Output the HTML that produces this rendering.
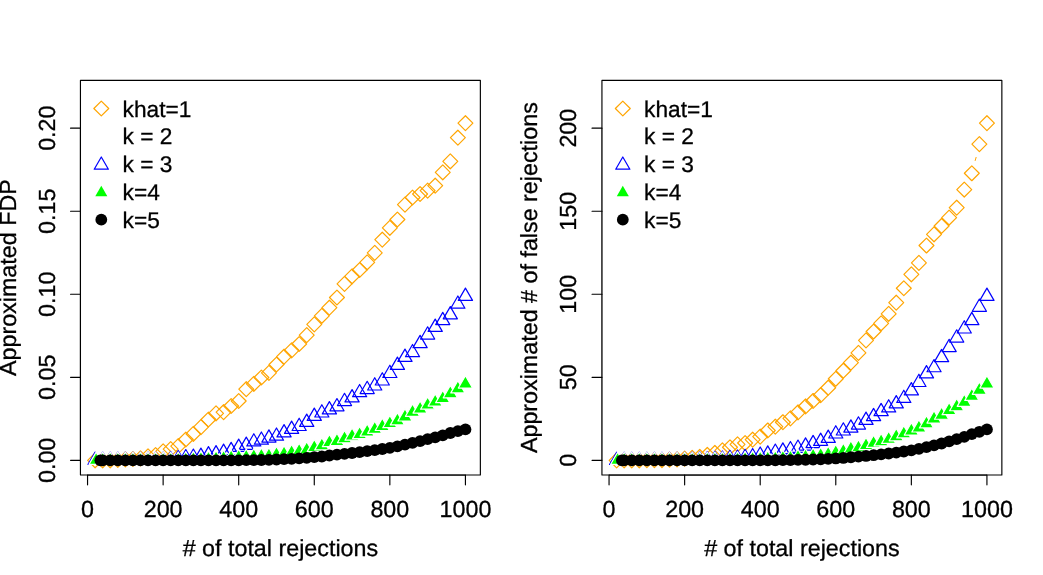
<!DOCTYPE html>
<html><head><meta charset="utf-8"><title>plot</title>
<style>
html,body{margin:0;padding:0;background:#fff;}
body{width:1043px;height:575px;overflow:hidden;}
svg{display:block;}
text{font-family:"Liberation Sans",sans-serif;font-size:23.3px;fill:#000;stroke:#000;stroke-width:0.3px;text-rendering:geometricPrecision;}
svg{will-change:transform;}
</style></head><body>
<svg width="1043" height="575" viewBox="0 0 1043 575">
<rect width="1043" height="575" fill="#fff"/>
<svg x="0" y="0" width="521.5" height="575" viewBox="0 0 521.5 575" overflow="hidden">
<g transform="translate(0,0)">
<path d="M95.11 452.85L102.56 460.30L95.11 467.75L87.66 460.30Z" fill="none" stroke="#FFA500" stroke-width="1.2" stroke-linejoin="round"/>
<path d="M102.67 452.85L110.12 460.30L102.67 467.75L95.22 460.30Z" fill="none" stroke="#FFA500" stroke-width="1.2" stroke-linejoin="round"/>
<path d="M110.22 452.85L117.67 460.30L110.22 467.75L102.77 460.30Z" fill="none" stroke="#FFA500" stroke-width="1.2" stroke-linejoin="round"/>
<path d="M117.78 452.55L125.23 460.00L117.78 467.45L110.33 460.00Z" fill="none" stroke="#FFA500" stroke-width="1.2" stroke-linejoin="round"/>
<path d="M125.34 451.85L132.79 459.30L125.34 466.75L117.89 459.30Z" fill="none" stroke="#FFA500" stroke-width="1.2" stroke-linejoin="round"/>
<path d="M132.90 451.55L140.35 459.00L132.90 466.45L125.45 459.00Z" fill="none" stroke="#FFA500" stroke-width="1.2" stroke-linejoin="round"/>
<path d="M140.45 450.85L147.90 458.30L140.45 465.75L133.00 458.30Z" fill="none" stroke="#FFA500" stroke-width="1.2" stroke-linejoin="round"/>
<path d="M148.01 448.95L155.46 456.40L148.01 463.85L140.56 456.40Z" fill="none" stroke="#FFA500" stroke-width="1.2" stroke-linejoin="round"/>
<path d="M155.57 447.55L163.02 455.00L155.57 462.45L148.12 455.00Z" fill="none" stroke="#FFA500" stroke-width="1.2" stroke-linejoin="round"/>
<path d="M163.13 443.85L170.58 451.30L163.13 458.75L155.68 451.30Z" fill="none" stroke="#FFA500" stroke-width="1.2" stroke-linejoin="round"/>
<path d="M170.68 441.65L178.13 449.10L170.68 456.55L163.23 449.10Z" fill="none" stroke="#FFA500" stroke-width="1.2" stroke-linejoin="round"/>
<path d="M178.24 438.65L185.69 446.10L178.24 453.55L170.79 446.10Z" fill="none" stroke="#FFA500" stroke-width="1.2" stroke-linejoin="round"/>
<path d="M185.80 432.05L193.25 439.50L185.80 446.95L178.35 439.50Z" fill="none" stroke="#FFA500" stroke-width="1.2" stroke-linejoin="round"/>
<path d="M193.36 426.35L200.81 433.80L193.36 441.25L185.91 433.80Z" fill="none" stroke="#FFA500" stroke-width="1.2" stroke-linejoin="round"/>
<path d="M200.91 419.65L208.36 427.10L200.91 434.55L193.46 427.10Z" fill="none" stroke="#FFA500" stroke-width="1.2" stroke-linejoin="round"/>
<path d="M208.47 412.05L215.92 419.50L208.47 426.95L201.02 419.50Z" fill="none" stroke="#FFA500" stroke-width="1.2" stroke-linejoin="round"/>
<path d="M216.03 405.85L223.48 413.30L216.03 420.75L208.58 413.30Z" fill="none" stroke="#FFA500" stroke-width="1.2" stroke-linejoin="round"/>
<path d="M223.59 404.75L231.04 412.20L223.59 419.65L216.14 412.20Z" fill="none" stroke="#FFA500" stroke-width="1.2" stroke-linejoin="round"/>
<path d="M231.14 398.55L238.59 406.00L231.14 413.45L223.69 406.00Z" fill="none" stroke="#FFA500" stroke-width="1.2" stroke-linejoin="round"/>
<path d="M238.70 393.55L246.15 401.00L238.70 408.45L231.25 401.00Z" fill="none" stroke="#FFA500" stroke-width="1.2" stroke-linejoin="round"/>
<path d="M246.26 381.75L253.71 389.20L246.26 396.65L238.81 389.20Z" fill="none" stroke="#FFA500" stroke-width="1.2" stroke-linejoin="round"/>
<path d="M253.82 376.35L261.27 383.80L253.82 391.25L246.37 383.80Z" fill="none" stroke="#FFA500" stroke-width="1.2" stroke-linejoin="round"/>
<path d="M261.37 370.05L268.82 377.50L261.37 384.95L253.92 377.50Z" fill="none" stroke="#FFA500" stroke-width="1.2" stroke-linejoin="round"/>
<path d="M268.93 365.45L276.38 372.90L268.93 380.35L261.48 372.90Z" fill="none" stroke="#FFA500" stroke-width="1.2" stroke-linejoin="round"/>
<path d="M276.49 357.05L283.94 364.50L276.49 371.95L269.04 364.50Z" fill="none" stroke="#FFA500" stroke-width="1.2" stroke-linejoin="round"/>
<path d="M284.05 349.25L291.50 356.70L284.05 364.15L276.60 356.70Z" fill="none" stroke="#FFA500" stroke-width="1.2" stroke-linejoin="round"/>
<path d="M291.61 342.95L299.06 350.40L291.61 357.85L284.16 350.40Z" fill="none" stroke="#FFA500" stroke-width="1.2" stroke-linejoin="round"/>
<path d="M299.16 336.55L306.61 344.00L299.16 351.45L291.71 344.00Z" fill="none" stroke="#FFA500" stroke-width="1.2" stroke-linejoin="round"/>
<path d="M306.72 327.65L314.17 335.10L306.72 342.55L299.27 335.10Z" fill="none" stroke="#FFA500" stroke-width="1.2" stroke-linejoin="round"/>
<path d="M314.28 316.95L321.73 324.40L314.28 331.85L306.83 324.40Z" fill="none" stroke="#FFA500" stroke-width="1.2" stroke-linejoin="round"/>
<path d="M321.84 308.35L329.29 315.80L321.84 323.25L314.39 315.80Z" fill="none" stroke="#FFA500" stroke-width="1.2" stroke-linejoin="round"/>
<path d="M329.39 300.25L336.84 307.70L329.39 315.15L321.94 307.70Z" fill="none" stroke="#FFA500" stroke-width="1.2" stroke-linejoin="round"/>
<path d="M336.95 290.05L344.40 297.50L336.95 304.95L329.50 297.50Z" fill="none" stroke="#FFA500" stroke-width="1.2" stroke-linejoin="round"/>
<path d="M344.51 276.45L351.96 283.90L344.51 291.35L337.06 283.90Z" fill="none" stroke="#FFA500" stroke-width="1.2" stroke-linejoin="round"/>
<path d="M352.07 268.85L359.52 276.30L352.07 283.75L344.62 276.30Z" fill="none" stroke="#FFA500" stroke-width="1.2" stroke-linejoin="round"/>
<path d="M359.62 262.55L367.07 270.00L359.62 277.45L352.17 270.00Z" fill="none" stroke="#FFA500" stroke-width="1.2" stroke-linejoin="round"/>
<path d="M367.18 254.85L374.63 262.30L367.18 269.75L359.73 262.30Z" fill="none" stroke="#FFA500" stroke-width="1.2" stroke-linejoin="round"/>
<path d="M374.74 245.45L382.19 252.90L374.74 260.35L367.29 252.90Z" fill="none" stroke="#FFA500" stroke-width="1.2" stroke-linejoin="round"/>
<path d="M382.30 232.25L389.75 239.70L382.30 247.15L374.85 239.70Z" fill="none" stroke="#FFA500" stroke-width="1.2" stroke-linejoin="round"/>
<path d="M389.85 220.35L397.30 227.80L389.85 235.25L382.40 227.80Z" fill="none" stroke="#FFA500" stroke-width="1.2" stroke-linejoin="round"/>
<path d="M397.41 212.05L404.86 219.50L397.41 226.95L389.96 219.50Z" fill="none" stroke="#FFA500" stroke-width="1.2" stroke-linejoin="round"/>
<path d="M404.97 197.15L412.42 204.60L404.97 212.05L397.52 204.60Z" fill="none" stroke="#FFA500" stroke-width="1.2" stroke-linejoin="round"/>
<path d="M412.53 190.05L419.98 197.50L412.53 204.95L405.08 197.50Z" fill="none" stroke="#FFA500" stroke-width="1.2" stroke-linejoin="round"/>
<path d="M420.08 186.55L427.53 194.00L420.08 201.45L412.63 194.00Z" fill="none" stroke="#FFA500" stroke-width="1.2" stroke-linejoin="round"/>
<path d="M427.64 183.15L435.09 190.60L427.64 198.05L420.19 190.60Z" fill="none" stroke="#FFA500" stroke-width="1.2" stroke-linejoin="round"/>
<path d="M435.20 178.25L442.65 185.70L435.20 193.15L427.75 185.70Z" fill="none" stroke="#FFA500" stroke-width="1.2" stroke-linejoin="round"/>
<path d="M442.76 164.85L450.21 172.30L442.76 179.75L435.31 172.30Z" fill="none" stroke="#FFA500" stroke-width="1.2" stroke-linejoin="round"/>
<path d="M450.31 153.85L457.76 161.30L450.31 168.75L442.86 161.30Z" fill="none" stroke="#FFA500" stroke-width="1.2" stroke-linejoin="round"/>
<path d="M457.87 130.25L465.32 137.70L457.87 145.15L450.42 137.70Z" fill="none" stroke="#FFA500" stroke-width="1.2" stroke-linejoin="round"/>
<path d="M465.43 115.75L472.88 123.20L465.43 130.65L457.98 123.20Z" fill="none" stroke="#FFA500" stroke-width="1.2" stroke-linejoin="round"/>
<path d="M95.11 452.13L102.18 464.38L88.03 464.38Z" fill="none" stroke="#0000FF" stroke-width="1.2" stroke-linejoin="round"/>
<path d="M102.67 452.13L109.74 464.38L95.59 464.38Z" fill="none" stroke="#0000FF" stroke-width="1.2" stroke-linejoin="round"/>
<path d="M110.22 452.13L117.30 464.38L103.15 464.38Z" fill="none" stroke="#0000FF" stroke-width="1.2" stroke-linejoin="round"/>
<path d="M117.78 452.13L124.86 464.38L110.70 464.38Z" fill="none" stroke="#0000FF" stroke-width="1.2" stroke-linejoin="round"/>
<path d="M125.34 452.13L132.41 464.38L118.26 464.38Z" fill="none" stroke="#0000FF" stroke-width="1.2" stroke-linejoin="round"/>
<path d="M132.90 452.13L139.97 464.38L125.82 464.38Z" fill="none" stroke="#0000FF" stroke-width="1.2" stroke-linejoin="round"/>
<path d="M140.45 452.13L147.53 464.38L133.38 464.38Z" fill="none" stroke="#0000FF" stroke-width="1.2" stroke-linejoin="round"/>
<path d="M148.01 452.13L155.09 464.38L140.94 464.38Z" fill="none" stroke="#0000FF" stroke-width="1.2" stroke-linejoin="round"/>
<path d="M155.57 452.13L162.64 464.38L148.49 464.38Z" fill="none" stroke="#0000FF" stroke-width="1.2" stroke-linejoin="round"/>
<path d="M163.13 452.13L170.20 464.38L156.05 464.38Z" fill="none" stroke="#0000FF" stroke-width="1.2" stroke-linejoin="round"/>
<path d="M170.68 451.43L177.76 463.69L163.61 463.69Z" fill="none" stroke="#0000FF" stroke-width="1.2" stroke-linejoin="round"/>
<path d="M178.24 450.43L185.32 462.69L171.17 462.69Z" fill="none" stroke="#0000FF" stroke-width="1.2" stroke-linejoin="round"/>
<path d="M185.80 449.63L192.87 461.88L178.72 461.88Z" fill="none" stroke="#0000FF" stroke-width="1.2" stroke-linejoin="round"/>
<path d="M193.36 449.03L200.43 461.28L186.28 461.28Z" fill="none" stroke="#0000FF" stroke-width="1.2" stroke-linejoin="round"/>
<path d="M200.91 448.13L207.99 460.38L193.84 460.38Z" fill="none" stroke="#0000FF" stroke-width="1.2" stroke-linejoin="round"/>
<path d="M208.47 446.63L215.55 458.88L201.40 458.88Z" fill="none" stroke="#0000FF" stroke-width="1.2" stroke-linejoin="round"/>
<path d="M216.03 445.63L223.10 457.88L208.95 457.88Z" fill="none" stroke="#0000FF" stroke-width="1.2" stroke-linejoin="round"/>
<path d="M223.59 444.13L230.66 456.38L216.51 456.38Z" fill="none" stroke="#0000FF" stroke-width="1.2" stroke-linejoin="round"/>
<path d="M231.14 442.33L238.22 454.58L224.07 454.58Z" fill="none" stroke="#0000FF" stroke-width="1.2" stroke-linejoin="round"/>
<path d="M238.70 439.13L245.78 451.38L231.63 451.38Z" fill="none" stroke="#0000FF" stroke-width="1.2" stroke-linejoin="round"/>
<path d="M246.26 437.13L253.34 449.38L239.18 449.38Z" fill="none" stroke="#0000FF" stroke-width="1.2" stroke-linejoin="round"/>
<path d="M253.82 433.68L260.89 445.94L246.74 445.94Z" fill="none" stroke="#0000FF" stroke-width="1.2" stroke-linejoin="round"/>
<path d="M261.37 431.93L268.45 444.19L254.30 444.19Z" fill="none" stroke="#0000FF" stroke-width="1.2" stroke-linejoin="round"/>
<path d="M268.93 429.83L276.01 442.08L261.86 442.08Z" fill="none" stroke="#0000FF" stroke-width="1.2" stroke-linejoin="round"/>
<path d="M276.49 427.93L283.57 440.19L269.41 440.19Z" fill="none" stroke="#0000FF" stroke-width="1.2" stroke-linejoin="round"/>
<path d="M284.05 424.63L291.12 436.88L276.97 436.88Z" fill="none" stroke="#0000FF" stroke-width="1.2" stroke-linejoin="round"/>
<path d="M291.61 421.13L298.68 433.38L284.53 433.38Z" fill="none" stroke="#0000FF" stroke-width="1.2" stroke-linejoin="round"/>
<path d="M299.16 418.23L306.24 430.49L292.09 430.49Z" fill="none" stroke="#0000FF" stroke-width="1.2" stroke-linejoin="round"/>
<path d="M306.72 414.13L313.80 426.38L299.64 426.38Z" fill="none" stroke="#0000FF" stroke-width="1.2" stroke-linejoin="round"/>
<path d="M314.28 408.13L321.35 420.38L307.20 420.38Z" fill="none" stroke="#0000FF" stroke-width="1.2" stroke-linejoin="round"/>
<path d="M321.84 404.73L328.91 416.99L314.76 416.99Z" fill="none" stroke="#0000FF" stroke-width="1.2" stroke-linejoin="round"/>
<path d="M329.39 401.63L336.47 413.88L322.32 413.88Z" fill="none" stroke="#0000FF" stroke-width="1.2" stroke-linejoin="round"/>
<path d="M336.95 398.53L344.03 410.78L329.88 410.78Z" fill="none" stroke="#0000FF" stroke-width="1.2" stroke-linejoin="round"/>
<path d="M344.51 393.28L351.58 405.53L337.43 405.53Z" fill="none" stroke="#0000FF" stroke-width="1.2" stroke-linejoin="round"/>
<path d="M352.07 389.63L359.14 401.88L344.99 401.88Z" fill="none" stroke="#0000FF" stroke-width="1.2" stroke-linejoin="round"/>
<path d="M359.62 384.43L366.70 396.69L352.55 396.69Z" fill="none" stroke="#0000FF" stroke-width="1.2" stroke-linejoin="round"/>
<path d="M367.18 381.28L374.26 393.53L360.11 393.53Z" fill="none" stroke="#0000FF" stroke-width="1.2" stroke-linejoin="round"/>
<path d="M374.74 377.73L381.81 389.99L367.66 389.99Z" fill="none" stroke="#0000FF" stroke-width="1.2" stroke-linejoin="round"/>
<path d="M382.30 372.73L389.37 384.99L375.22 384.99Z" fill="none" stroke="#0000FF" stroke-width="1.2" stroke-linejoin="round"/>
<path d="M389.85 365.23L396.93 377.49L382.78 377.49Z" fill="none" stroke="#0000FF" stroke-width="1.2" stroke-linejoin="round"/>
<path d="M397.41 357.13L404.49 369.38L390.34 369.38Z" fill="none" stroke="#0000FF" stroke-width="1.2" stroke-linejoin="round"/>
<path d="M404.97 349.13L412.04 361.38L397.89 361.38Z" fill="none" stroke="#0000FF" stroke-width="1.2" stroke-linejoin="round"/>
<path d="M412.53 344.43L419.60 356.69L405.45 356.69Z" fill="none" stroke="#0000FF" stroke-width="1.2" stroke-linejoin="round"/>
<path d="M420.08 335.38L427.16 347.63L413.01 347.63Z" fill="none" stroke="#0000FF" stroke-width="1.2" stroke-linejoin="round"/>
<path d="M427.64 326.78L434.72 339.03L420.57 339.03Z" fill="none" stroke="#0000FF" stroke-width="1.2" stroke-linejoin="round"/>
<path d="M435.20 319.13L442.28 331.38L428.12 331.38Z" fill="none" stroke="#0000FF" stroke-width="1.2" stroke-linejoin="round"/>
<path d="M442.76 312.33L449.83 324.58L435.68 324.58Z" fill="none" stroke="#0000FF" stroke-width="1.2" stroke-linejoin="round"/>
<path d="M450.31 306.58L457.39 318.83L443.24 318.83Z" fill="none" stroke="#0000FF" stroke-width="1.2" stroke-linejoin="round"/>
<path d="M457.87 295.93L464.95 308.19L450.80 308.19Z" fill="none" stroke="#0000FF" stroke-width="1.2" stroke-linejoin="round"/>
<path d="M465.43 288.13L472.51 300.38L458.35 300.38Z" fill="none" stroke="#0000FF" stroke-width="1.2" stroke-linejoin="round"/>
<path d="M96.11 452.13L103.18 464.38L89.03 464.38Z" fill="#00FF00" stroke="#fff" stroke-width="1.2" stroke-linejoin="round"/>
<path d="M102.67 452.13L109.74 464.38L95.59 464.38Z" fill="#00FF00" stroke="#fff" stroke-width="1.2" stroke-linejoin="round"/>
<path d="M110.22 452.13L117.30 464.38L103.15 464.38Z" fill="#00FF00" stroke="#fff" stroke-width="1.2" stroke-linejoin="round"/>
<path d="M117.78 452.13L124.86 464.38L110.70 464.38Z" fill="#00FF00" stroke="#fff" stroke-width="1.2" stroke-linejoin="round"/>
<path d="M125.34 452.13L132.41 464.38L118.26 464.38Z" fill="#00FF00" stroke="#fff" stroke-width="1.2" stroke-linejoin="round"/>
<path d="M132.90 452.13L139.97 464.38L125.82 464.38Z" fill="#00FF00" stroke="#fff" stroke-width="1.2" stroke-linejoin="round"/>
<path d="M140.45 452.13L147.53 464.38L133.38 464.38Z" fill="#00FF00" stroke="#fff" stroke-width="1.2" stroke-linejoin="round"/>
<path d="M148.01 452.13L155.09 464.38L140.94 464.38Z" fill="#00FF00" stroke="#fff" stroke-width="1.2" stroke-linejoin="round"/>
<path d="M155.57 452.13L162.64 464.38L148.49 464.38Z" fill="#00FF00" stroke="#fff" stroke-width="1.2" stroke-linejoin="round"/>
<path d="M163.13 452.13L170.20 464.38L156.05 464.38Z" fill="#00FF00" stroke="#fff" stroke-width="1.2" stroke-linejoin="round"/>
<path d="M170.68 452.13L177.76 464.38L163.61 464.38Z" fill="#00FF00" stroke="#fff" stroke-width="1.2" stroke-linejoin="round"/>
<path d="M178.24 452.13L185.32 464.38L171.17 464.38Z" fill="#00FF00" stroke="#fff" stroke-width="1.2" stroke-linejoin="round"/>
<path d="M185.80 451.73L192.87 463.99L178.72 463.99Z" fill="#00FF00" stroke="#fff" stroke-width="1.2" stroke-linejoin="round"/>
<path d="M193.36 451.53L200.43 463.78L186.28 463.78Z" fill="#00FF00" stroke="#fff" stroke-width="1.2" stroke-linejoin="round"/>
<path d="M200.91 451.23L207.99 463.49L193.84 463.49Z" fill="#00FF00" stroke="#fff" stroke-width="1.2" stroke-linejoin="round"/>
<path d="M208.47 450.93L215.55 463.19L201.40 463.19Z" fill="#00FF00" stroke="#fff" stroke-width="1.2" stroke-linejoin="round"/>
<path d="M216.03 450.63L223.10 462.88L208.95 462.88Z" fill="#00FF00" stroke="#fff" stroke-width="1.2" stroke-linejoin="round"/>
<path d="M223.59 450.23L230.66 462.49L216.51 462.49Z" fill="#00FF00" stroke="#fff" stroke-width="1.2" stroke-linejoin="round"/>
<path d="M231.14 449.73L238.22 461.99L224.07 461.99Z" fill="#00FF00" stroke="#fff" stroke-width="1.2" stroke-linejoin="round"/>
<path d="M238.70 449.23L245.78 461.49L231.63 461.49Z" fill="#00FF00" stroke="#fff" stroke-width="1.2" stroke-linejoin="round"/>
<path d="M246.26 448.93L253.34 461.19L239.18 461.19Z" fill="#00FF00" stroke="#fff" stroke-width="1.2" stroke-linejoin="round"/>
<path d="M253.82 448.53L260.89 460.78L246.74 460.78Z" fill="#00FF00" stroke="#fff" stroke-width="1.2" stroke-linejoin="round"/>
<path d="M261.37 448.03L268.45 460.28L254.30 460.28Z" fill="#00FF00" stroke="#fff" stroke-width="1.2" stroke-linejoin="round"/>
<path d="M268.93 447.73L276.01 459.99L261.86 459.99Z" fill="#00FF00" stroke="#fff" stroke-width="1.2" stroke-linejoin="round"/>
<path d="M276.49 446.33L283.57 458.58L269.41 458.58Z" fill="#00FF00" stroke="#fff" stroke-width="1.2" stroke-linejoin="round"/>
<path d="M284.05 445.63L291.12 457.88L276.97 457.88Z" fill="#00FF00" stroke="#fff" stroke-width="1.2" stroke-linejoin="round"/>
<path d="M291.61 444.53L298.68 456.78L284.53 456.78Z" fill="#00FF00" stroke="#fff" stroke-width="1.2" stroke-linejoin="round"/>
<path d="M299.16 443.23L306.24 455.49L292.09 455.49Z" fill="#00FF00" stroke="#fff" stroke-width="1.2" stroke-linejoin="round"/>
<path d="M306.72 441.73L313.80 453.99L299.64 453.99Z" fill="#00FF00" stroke="#fff" stroke-width="1.2" stroke-linejoin="round"/>
<path d="M314.28 439.33L321.35 451.58L307.20 451.58Z" fill="#00FF00" stroke="#fff" stroke-width="1.2" stroke-linejoin="round"/>
<path d="M321.84 437.63L328.91 449.88L314.76 449.88Z" fill="#00FF00" stroke="#fff" stroke-width="1.2" stroke-linejoin="round"/>
<path d="M329.39 434.43L336.47 446.69L322.32 446.69Z" fill="#00FF00" stroke="#fff" stroke-width="1.2" stroke-linejoin="round"/>
<path d="M336.95 433.23L344.03 445.49L329.88 445.49Z" fill="#00FF00" stroke="#fff" stroke-width="1.2" stroke-linejoin="round"/>
<path d="M344.51 430.48L351.58 442.74L337.43 442.74Z" fill="#00FF00" stroke="#fff" stroke-width="1.2" stroke-linejoin="round"/>
<path d="M352.07 427.93L359.14 440.19L344.99 440.19Z" fill="#00FF00" stroke="#fff" stroke-width="1.2" stroke-linejoin="round"/>
<path d="M359.62 426.33L366.70 438.58L352.55 438.58Z" fill="#00FF00" stroke="#fff" stroke-width="1.2" stroke-linejoin="round"/>
<path d="M367.18 423.83L374.26 436.08L360.11 436.08Z" fill="#00FF00" stroke="#fff" stroke-width="1.2" stroke-linejoin="round"/>
<path d="M374.74 421.08L381.81 433.33L367.66 433.33Z" fill="#00FF00" stroke="#fff" stroke-width="1.2" stroke-linejoin="round"/>
<path d="M382.30 418.23L389.37 430.49L375.22 430.49Z" fill="#00FF00" stroke="#fff" stroke-width="1.2" stroke-linejoin="round"/>
<path d="M389.85 415.43L396.93 427.69L382.78 427.69Z" fill="#00FF00" stroke="#fff" stroke-width="1.2" stroke-linejoin="round"/>
<path d="M397.41 412.63L404.49 424.88L390.34 424.88Z" fill="#00FF00" stroke="#fff" stroke-width="1.2" stroke-linejoin="round"/>
<path d="M404.97 408.73L412.04 420.99L397.89 420.99Z" fill="#00FF00" stroke="#fff" stroke-width="1.2" stroke-linejoin="round"/>
<path d="M412.53 404.03L419.60 416.28L405.45 416.28Z" fill="#00FF00" stroke="#fff" stroke-width="1.2" stroke-linejoin="round"/>
<path d="M420.08 400.83L427.16 413.08L413.01 413.08Z" fill="#00FF00" stroke="#fff" stroke-width="1.2" stroke-linejoin="round"/>
<path d="M427.64 396.93L434.72 409.19L420.57 409.19Z" fill="#00FF00" stroke="#fff" stroke-width="1.2" stroke-linejoin="round"/>
<path d="M435.20 393.83L442.28 406.08L428.12 406.08Z" fill="#00FF00" stroke="#fff" stroke-width="1.2" stroke-linejoin="round"/>
<path d="M442.76 390.38L449.83 402.63L435.68 402.63Z" fill="#00FF00" stroke="#fff" stroke-width="1.2" stroke-linejoin="round"/>
<path d="M450.31 385.53L457.39 397.78L443.24 397.78Z" fill="#00FF00" stroke="#fff" stroke-width="1.2" stroke-linejoin="round"/>
<path d="M457.87 380.63L464.95 392.88L450.80 392.88Z" fill="#00FF00" stroke="#fff" stroke-width="1.2" stroke-linejoin="round"/>
<path d="M465.43 375.78L472.51 388.03L458.35 388.03Z" fill="#00FF00" stroke="#fff" stroke-width="1.2" stroke-linejoin="round"/>
<circle cx="100.40" cy="460.36" r="5.9" fill="#000000"/>
<circle cx="102.67" cy="460.30" r="5.9" fill="#000000"/>
<circle cx="110.22" cy="460.30" r="5.9" fill="#000000"/>
<circle cx="117.78" cy="460.30" r="5.9" fill="#000000"/>
<circle cx="125.34" cy="460.30" r="5.9" fill="#000000"/>
<circle cx="132.90" cy="460.30" r="5.9" fill="#000000"/>
<circle cx="140.45" cy="460.30" r="5.9" fill="#000000"/>
<circle cx="148.01" cy="460.30" r="5.9" fill="#000000"/>
<circle cx="155.57" cy="460.30" r="5.9" fill="#000000"/>
<circle cx="163.13" cy="460.30" r="5.9" fill="#000000"/>
<circle cx="170.68" cy="460.30" r="5.9" fill="#000000"/>
<circle cx="178.24" cy="460.30" r="5.9" fill="#000000"/>
<circle cx="185.80" cy="460.30" r="5.9" fill="#000000"/>
<circle cx="193.36" cy="460.30" r="5.9" fill="#000000"/>
<circle cx="200.91" cy="460.30" r="5.9" fill="#000000"/>
<circle cx="208.47" cy="460.30" r="5.9" fill="#000000"/>
<circle cx="216.03" cy="460.30" r="5.9" fill="#000000"/>
<circle cx="223.59" cy="460.30" r="5.9" fill="#000000"/>
<circle cx="231.14" cy="460.30" r="5.9" fill="#000000"/>
<circle cx="238.70" cy="460.30" r="5.9" fill="#000000"/>
<circle cx="246.26" cy="460.20" r="5.9" fill="#000000"/>
<circle cx="253.82" cy="460.10" r="5.9" fill="#000000"/>
<circle cx="261.37" cy="460.00" r="5.9" fill="#000000"/>
<circle cx="268.93" cy="459.80" r="5.9" fill="#000000"/>
<circle cx="276.49" cy="459.50" r="5.9" fill="#000000"/>
<circle cx="284.05" cy="459.20" r="5.9" fill="#000000"/>
<circle cx="291.61" cy="458.80" r="5.9" fill="#000000"/>
<circle cx="299.16" cy="458.40" r="5.9" fill="#000000"/>
<circle cx="306.72" cy="457.80" r="5.9" fill="#000000"/>
<circle cx="314.28" cy="457.20" r="5.9" fill="#000000"/>
<circle cx="321.84" cy="456.50" r="5.9" fill="#000000"/>
<circle cx="329.39" cy="455.50" r="5.9" fill="#000000"/>
<circle cx="336.95" cy="454.70" r="5.9" fill="#000000"/>
<circle cx="344.51" cy="453.90" r="5.9" fill="#000000"/>
<circle cx="352.07" cy="453.00" r="5.9" fill="#000000"/>
<circle cx="359.62" cy="452.10" r="5.9" fill="#000000"/>
<circle cx="367.18" cy="451.10" r="5.9" fill="#000000"/>
<circle cx="374.74" cy="450.10" r="5.9" fill="#000000"/>
<circle cx="382.30" cy="449.00" r="5.9" fill="#000000"/>
<circle cx="389.85" cy="447.90" r="5.9" fill="#000000"/>
<circle cx="397.41" cy="446.40" r="5.9" fill="#000000"/>
<circle cx="404.97" cy="444.60" r="5.9" fill="#000000"/>
<circle cx="412.53" cy="442.90" r="5.9" fill="#000000"/>
<circle cx="420.08" cy="441.20" r="5.9" fill="#000000"/>
<circle cx="427.64" cy="439.20" r="5.9" fill="#000000"/>
<circle cx="435.20" cy="437.30" r="5.9" fill="#000000"/>
<circle cx="442.76" cy="435.30" r="5.9" fill="#000000"/>
<circle cx="450.31" cy="433.00" r="5.9" fill="#000000"/>
<circle cx="457.87" cy="431.20" r="5.9" fill="#000000"/>
<circle cx="465.43" cy="429.40" r="5.9" fill="#000000"/>
<rect x="80.44" y="80.35" width="399.92" height="394.60" fill="none" stroke="#000" stroke-width="1.15" stroke-linejoin="round"/>
<path d="M87.55 475.10H465.43" stroke="#000" stroke-width="1.15" opacity="0.8"/>
<path d="M80.34 460.36V128.16" stroke="#000" stroke-width="1.15" opacity="0.35"/>
<path d="M87.55 474.95V484.85" stroke="#000" stroke-width="1.15" stroke-linecap="round"/>
<text x="87.55" y="516.55" text-anchor="middle">0</text>
<path d="M163.13 474.95V484.85" stroke="#000" stroke-width="1.15" stroke-linecap="round"/>
<text x="163.13" y="516.55" text-anchor="middle">200</text>
<path d="M238.70 474.95V484.85" stroke="#000" stroke-width="1.15" stroke-linecap="round"/>
<text x="238.70" y="516.55" text-anchor="middle">400</text>
<path d="M314.28 474.95V484.85" stroke="#000" stroke-width="1.15" stroke-linecap="round"/>
<text x="314.28" y="516.55" text-anchor="middle">600</text>
<path d="M389.85 474.95V484.85" stroke="#000" stroke-width="1.15" stroke-linecap="round"/>
<text x="389.85" y="516.55" text-anchor="middle">800</text>
<path d="M465.43 474.95V484.85" stroke="#000" stroke-width="1.15" stroke-linecap="round"/>
<text x="465.43" y="516.55" text-anchor="middle">1000</text>
<path d="M80.44 460.36H70.54" stroke="#000" stroke-width="1.15" stroke-linecap="round"/>
<text transform="translate(54.6,460.36) rotate(-90)" text-anchor="middle">0.00</text>
<path d="M80.44 377.31H70.54" stroke="#000" stroke-width="1.15" stroke-linecap="round"/>
<text transform="translate(54.6,377.31) rotate(-90)" text-anchor="middle">0.05</text>
<path d="M80.44 294.26H70.54" stroke="#000" stroke-width="1.15" stroke-linecap="round"/>
<text transform="translate(54.6,294.26) rotate(-90)" text-anchor="middle">0.10</text>
<path d="M80.44 211.21H70.54" stroke="#000" stroke-width="1.15" stroke-linecap="round"/>
<text transform="translate(54.6,211.21) rotate(-90)" text-anchor="middle">0.15</text>
<path d="M80.44 128.16H70.54" stroke="#000" stroke-width="1.15" stroke-linecap="round"/>
<text transform="translate(54.6,128.16) rotate(-90)" text-anchor="middle">0.20</text>
<text x="280.40" y="556.3" text-anchor="middle"># of total rejections</text>
<text transform="translate(15.8,277.65) rotate(-90)" text-anchor="middle">Approximated FDP</text>
<path d="M101.30 101.05L108.75 108.50L101.30 115.95L93.85 108.50Z" fill="none" stroke="#FFA500" stroke-width="1.2" stroke-linejoin="round"/>
<path d="M101.30 156.93L108.38 169.19L94.22 169.19Z" fill="none" stroke="#0000FF" stroke-width="1.2" stroke-linejoin="round"/>
<path d="M101.30 185.75L107.32 196.18L95.28 196.18Z" fill="#00FF00"/>
<circle cx="101.30" cy="219.70" r="5.9" fill="#000000"/>
<text x="122.60000000000001" y="116.60" style="font-size:22.7px">khat=1</text>
<text x="122.60000000000001" y="144.40" style="font-size:22.7px">k = 2</text>
<text x="122.60000000000001" y="172.20" style="font-size:22.7px">k = 3</text>
<text x="122.60000000000001" y="200.00" style="font-size:22.7px">k=4</text>
<text x="122.60000000000001" y="227.80" style="font-size:22.7px">k=5</text>
</g>
</svg>
<g transform="translate(521.5,0)">
<path d="M95.11 452.91L102.56 460.36L95.11 467.81L87.66 460.36Z" fill="none" stroke="#FFA500" stroke-width="1.2" stroke-linejoin="round"/>
<path d="M102.67 452.91L110.12 460.36L102.67 467.81L95.22 460.36Z" fill="none" stroke="#FFA500" stroke-width="1.2" stroke-linejoin="round"/>
<path d="M110.22 452.91L117.67 460.36L110.22 467.81L102.77 460.36Z" fill="none" stroke="#FFA500" stroke-width="1.2" stroke-linejoin="round"/>
<path d="M117.78 452.88L125.23 460.33L117.78 467.78L110.33 460.33Z" fill="none" stroke="#FFA500" stroke-width="1.2" stroke-linejoin="round"/>
<path d="M125.34 452.80L132.79 460.25L125.34 467.70L117.89 460.25Z" fill="none" stroke="#FFA500" stroke-width="1.2" stroke-linejoin="round"/>
<path d="M132.90 452.75L140.35 460.20L132.90 467.65L125.45 460.20Z" fill="none" stroke="#FFA500" stroke-width="1.2" stroke-linejoin="round"/>
<path d="M140.45 452.62L147.90 460.07L140.45 467.52L133.00 460.07Z" fill="none" stroke="#FFA500" stroke-width="1.2" stroke-linejoin="round"/>
<path d="M148.01 452.28L155.46 459.73L148.01 467.18L140.56 459.73Z" fill="none" stroke="#FFA500" stroke-width="1.2" stroke-linejoin="round"/>
<path d="M155.57 451.95L163.02 459.40L155.57 466.85L148.12 459.40Z" fill="none" stroke="#FFA500" stroke-width="1.2" stroke-linejoin="round"/>
<path d="M163.13 451.10L170.58 458.55L163.13 466.00L155.68 458.55Z" fill="none" stroke="#FFA500" stroke-width="1.2" stroke-linejoin="round"/>
<path d="M170.68 450.43L178.13 457.88L170.68 465.33L163.23 457.88Z" fill="none" stroke="#FFA500" stroke-width="1.2" stroke-linejoin="round"/>
<path d="M178.24 449.49L185.69 456.94L178.24 464.39L170.79 456.94Z" fill="none" stroke="#FFA500" stroke-width="1.2" stroke-linejoin="round"/>
<path d="M185.80 447.49L193.25 454.94L185.80 462.39L178.35 454.94Z" fill="none" stroke="#FFA500" stroke-width="1.2" stroke-linejoin="round"/>
<path d="M193.36 445.47L200.81 452.92L193.36 460.37L185.91 452.92Z" fill="none" stroke="#FFA500" stroke-width="1.2" stroke-linejoin="round"/>
<path d="M200.91 442.93L208.36 450.38L200.91 457.83L193.46 450.38Z" fill="none" stroke="#FFA500" stroke-width="1.2" stroke-linejoin="round"/>
<path d="M208.47 439.83L215.92 447.28L208.47 454.73L201.02 447.28Z" fill="none" stroke="#FFA500" stroke-width="1.2" stroke-linejoin="round"/>
<path d="M216.03 436.91L223.48 444.36L216.03 451.81L208.58 444.36Z" fill="none" stroke="#FFA500" stroke-width="1.2" stroke-linejoin="round"/>
<path d="M223.59 435.57L231.04 443.02L223.59 450.47L216.14 443.02Z" fill="none" stroke="#FFA500" stroke-width="1.2" stroke-linejoin="round"/>
<path d="M231.14 432.25L238.59 439.70L231.14 447.15L223.69 439.70Z" fill="none" stroke="#FFA500" stroke-width="1.2" stroke-linejoin="round"/>
<path d="M238.70 429.17L246.15 436.62L238.70 444.07L231.25 436.62Z" fill="none" stroke="#FFA500" stroke-width="1.2" stroke-linejoin="round"/>
<path d="M246.26 423.02L253.71 430.47L246.26 437.92L238.81 430.47Z" fill="none" stroke="#FFA500" stroke-width="1.2" stroke-linejoin="round"/>
<path d="M253.82 419.22L261.27 426.67L253.82 434.12L246.37 426.67Z" fill="none" stroke="#FFA500" stroke-width="1.2" stroke-linejoin="round"/>
<path d="M261.37 414.79L268.82 422.24L261.37 429.69L253.92 422.24Z" fill="none" stroke="#FFA500" stroke-width="1.2" stroke-linejoin="round"/>
<path d="M268.93 410.93L276.38 418.38L268.93 425.83L261.48 418.38Z" fill="none" stroke="#FFA500" stroke-width="1.2" stroke-linejoin="round"/>
<path d="M276.49 404.98L283.94 412.43L276.49 419.88L269.04 412.43Z" fill="none" stroke="#FFA500" stroke-width="1.2" stroke-linejoin="round"/>
<path d="M284.05 399.01L291.50 406.46L284.05 413.91L276.60 406.46Z" fill="none" stroke="#FFA500" stroke-width="1.2" stroke-linejoin="round"/>
<path d="M291.61 393.53L299.06 400.98L291.61 408.43L284.16 400.98Z" fill="none" stroke="#FFA500" stroke-width="1.2" stroke-linejoin="round"/>
<path d="M299.16 387.75L306.61 395.20L299.16 402.65L291.71 395.20Z" fill="none" stroke="#FFA500" stroke-width="1.2" stroke-linejoin="round"/>
<path d="M306.72 380.26L314.17 387.71L306.72 395.16L299.27 387.71Z" fill="none" stroke="#FFA500" stroke-width="1.2" stroke-linejoin="round"/>
<path d="M314.28 371.33L321.73 378.78L314.28 386.23L306.83 378.78Z" fill="none" stroke="#FFA500" stroke-width="1.2" stroke-linejoin="round"/>
<path d="M321.84 363.28L329.29 370.73L321.84 378.18L314.39 370.73Z" fill="none" stroke="#FFA500" stroke-width="1.2" stroke-linejoin="round"/>
<path d="M329.39 355.21L336.84 362.66L329.39 370.11L321.94 362.66Z" fill="none" stroke="#FFA500" stroke-width="1.2" stroke-linejoin="round"/>
<path d="M336.95 345.42L344.40 352.87L336.95 360.32L329.50 352.87Z" fill="none" stroke="#FFA500" stroke-width="1.2" stroke-linejoin="round"/>
<path d="M344.51 332.92L351.96 340.37L344.51 347.82L337.06 340.37Z" fill="none" stroke="#FFA500" stroke-width="1.2" stroke-linejoin="round"/>
<path d="M352.07 324.07L359.52 331.52L352.07 338.97L344.62 331.52Z" fill="none" stroke="#FFA500" stroke-width="1.2" stroke-linejoin="round"/>
<path d="M359.62 315.85L367.07 323.30L359.62 330.75L352.17 323.30Z" fill="none" stroke="#FFA500" stroke-width="1.2" stroke-linejoin="round"/>
<path d="M367.18 306.35L374.63 313.80L367.18 321.25L359.73 313.80Z" fill="none" stroke="#FFA500" stroke-width="1.2" stroke-linejoin="round"/>
<path d="M374.74 295.24L382.19 302.69L374.74 310.14L367.29 302.69Z" fill="none" stroke="#FFA500" stroke-width="1.2" stroke-linejoin="round"/>
<path d="M382.30 280.80L389.75 288.25L382.30 295.70L374.85 288.25Z" fill="none" stroke="#FFA500" stroke-width="1.2" stroke-linejoin="round"/>
<path d="M389.85 266.86L397.30 274.31L389.85 281.76L382.40 274.31Z" fill="none" stroke="#FFA500" stroke-width="1.2" stroke-linejoin="round"/>
<path d="M397.41 255.40L404.86 262.85L397.41 270.30L389.96 262.85Z" fill="none" stroke="#FFA500" stroke-width="1.2" stroke-linejoin="round"/>
<path d="M404.97 238.07L412.42 245.52L404.97 252.97L397.52 245.52Z" fill="none" stroke="#FFA500" stroke-width="1.2" stroke-linejoin="round"/>
<path d="M412.53 226.85L419.98 234.30L412.53 241.75L405.08 234.30Z" fill="none" stroke="#FFA500" stroke-width="1.2" stroke-linejoin="round"/>
<path d="M420.08 218.51L427.53 225.96L420.08 233.41L412.63 225.96Z" fill="none" stroke="#FFA500" stroke-width="1.2" stroke-linejoin="round"/>
<path d="M427.64 210.13L435.09 217.58L427.64 225.03L420.19 217.58Z" fill="none" stroke="#FFA500" stroke-width="1.2" stroke-linejoin="round"/>
<path d="M435.20 200.22L442.65 207.67L435.20 215.12L427.75 207.67Z" fill="none" stroke="#FFA500" stroke-width="1.2" stroke-linejoin="round"/>
<path d="M442.76 182.13L450.21 189.58L442.76 197.03L435.31 189.58Z" fill="none" stroke="#FFA500" stroke-width="1.2" stroke-linejoin="round"/>
<path d="M450.31 165.81L457.76 173.26L450.31 180.71L442.86 173.26Z" fill="none" stroke="#FFA500" stroke-width="1.2" stroke-linejoin="round"/>
<path d="M457.87 136.70L465.32 144.15L457.87 151.60L450.42 144.15Z" fill="none" stroke="#FFA500" stroke-width="1.2" stroke-linejoin="round"/>
<path d="M465.43 115.75L472.88 123.20L465.43 130.65L457.98 123.20Z" fill="none" stroke="#FFA500" stroke-width="1.2" stroke-linejoin="round"/>
<path d="M95.11 452.19L102.18 464.44L88.03 464.44Z" fill="none" stroke="#0000FF" stroke-width="1.2" stroke-linejoin="round"/>
<path d="M102.67 452.19L109.74 464.44L95.59 464.44Z" fill="none" stroke="#0000FF" stroke-width="1.2" stroke-linejoin="round"/>
<path d="M110.22 452.19L117.30 464.44L103.15 464.44Z" fill="none" stroke="#0000FF" stroke-width="1.2" stroke-linejoin="round"/>
<path d="M117.78 452.19L124.86 464.44L110.70 464.44Z" fill="none" stroke="#0000FF" stroke-width="1.2" stroke-linejoin="round"/>
<path d="M125.34 452.18L132.41 464.44L118.26 464.44Z" fill="none" stroke="#0000FF" stroke-width="1.2" stroke-linejoin="round"/>
<path d="M132.90 452.18L139.97 464.44L125.82 464.44Z" fill="none" stroke="#0000FF" stroke-width="1.2" stroke-linejoin="round"/>
<path d="M140.45 452.18L147.53 464.44L133.38 464.44Z" fill="none" stroke="#0000FF" stroke-width="1.2" stroke-linejoin="round"/>
<path d="M148.01 452.18L155.09 464.44L140.94 464.44Z" fill="none" stroke="#0000FF" stroke-width="1.2" stroke-linejoin="round"/>
<path d="M155.57 452.18L162.64 464.43L148.49 464.43Z" fill="none" stroke="#0000FF" stroke-width="1.2" stroke-linejoin="round"/>
<path d="M163.13 452.18L170.20 464.43L156.05 464.43Z" fill="none" stroke="#0000FF" stroke-width="1.2" stroke-linejoin="round"/>
<path d="M170.68 452.02L177.76 464.28L163.61 464.28Z" fill="none" stroke="#0000FF" stroke-width="1.2" stroke-linejoin="round"/>
<path d="M178.24 451.77L185.32 464.02L171.17 464.02Z" fill="none" stroke="#0000FF" stroke-width="1.2" stroke-linejoin="round"/>
<path d="M185.80 451.52L192.87 463.78L178.72 463.78Z" fill="none" stroke="#0000FF" stroke-width="1.2" stroke-linejoin="round"/>
<path d="M193.36 451.31L200.43 463.56L186.28 463.56Z" fill="none" stroke="#0000FF" stroke-width="1.2" stroke-linejoin="round"/>
<path d="M200.91 450.97L207.99 463.23L193.84 463.23Z" fill="none" stroke="#0000FF" stroke-width="1.2" stroke-linejoin="round"/>
<path d="M208.47 450.41L215.55 462.67L201.40 462.67Z" fill="none" stroke="#0000FF" stroke-width="1.2" stroke-linejoin="round"/>
<path d="M216.03 449.96L223.10 462.21L208.95 462.21Z" fill="none" stroke="#0000FF" stroke-width="1.2" stroke-linejoin="round"/>
<path d="M223.59 449.29L230.66 461.54L216.51 461.54Z" fill="none" stroke="#0000FF" stroke-width="1.2" stroke-linejoin="round"/>
<path d="M231.14 448.44L238.22 460.70L224.07 460.70Z" fill="none" stroke="#0000FF" stroke-width="1.2" stroke-linejoin="round"/>
<path d="M238.70 446.97L245.78 459.22L231.63 459.22Z" fill="none" stroke="#0000FF" stroke-width="1.2" stroke-linejoin="round"/>
<path d="M246.26 445.86L253.34 458.12L239.18 458.12Z" fill="none" stroke="#0000FF" stroke-width="1.2" stroke-linejoin="round"/>
<path d="M253.82 444.05L260.89 456.30L246.74 456.30Z" fill="none" stroke="#0000FF" stroke-width="1.2" stroke-linejoin="round"/>
<path d="M261.37 442.87L268.45 455.13L254.30 455.13Z" fill="none" stroke="#0000FF" stroke-width="1.2" stroke-linejoin="round"/>
<path d="M268.93 441.46L276.01 453.71L261.86 453.71Z" fill="none" stroke="#0000FF" stroke-width="1.2" stroke-linejoin="round"/>
<path d="M276.49 440.06L283.57 452.31L269.41 452.31Z" fill="none" stroke="#0000FF" stroke-width="1.2" stroke-linejoin="round"/>
<path d="M284.05 437.86L291.12 450.11L276.97 450.11Z" fill="none" stroke="#0000FF" stroke-width="1.2" stroke-linejoin="round"/>
<path d="M291.61 435.42L298.68 447.67L284.53 447.67Z" fill="none" stroke="#0000FF" stroke-width="1.2" stroke-linejoin="round"/>
<path d="M299.16 433.17L306.24 445.43L292.09 445.43Z" fill="none" stroke="#0000FF" stroke-width="1.2" stroke-linejoin="round"/>
<path d="M306.72 430.12L313.80 442.37L299.64 442.37Z" fill="none" stroke="#0000FF" stroke-width="1.2" stroke-linejoin="round"/>
<path d="M314.28 425.75L321.35 438.01L307.20 438.01Z" fill="none" stroke="#0000FF" stroke-width="1.2" stroke-linejoin="round"/>
<path d="M321.84 422.76L328.91 435.02L314.76 435.02Z" fill="none" stroke="#0000FF" stroke-width="1.2" stroke-linejoin="round"/>
<path d="M329.39 419.83L336.47 432.09L322.32 432.09Z" fill="none" stroke="#0000FF" stroke-width="1.2" stroke-linejoin="round"/>
<path d="M336.95 416.77L344.03 429.03L329.88 429.03Z" fill="none" stroke="#0000FF" stroke-width="1.2" stroke-linejoin="round"/>
<path d="M344.51 412.13L351.58 424.39L337.43 424.39Z" fill="none" stroke="#0000FF" stroke-width="1.2" stroke-linejoin="round"/>
<path d="M352.07 408.40L359.14 420.65L344.99 420.65Z" fill="none" stroke="#0000FF" stroke-width="1.2" stroke-linejoin="round"/>
<path d="M359.62 403.40L366.70 415.66L352.55 415.66Z" fill="none" stroke="#0000FF" stroke-width="1.2" stroke-linejoin="round"/>
<path d="M367.18 399.72L374.26 411.97L360.11 411.97Z" fill="none" stroke="#0000FF" stroke-width="1.2" stroke-linejoin="round"/>
<path d="M374.74 395.60L381.81 407.86L367.66 407.86Z" fill="none" stroke="#0000FF" stroke-width="1.2" stroke-linejoin="round"/>
<path d="M382.30 390.21L389.37 402.47L375.22 402.47Z" fill="none" stroke="#0000FF" stroke-width="1.2" stroke-linejoin="round"/>
<path d="M389.85 382.62L396.93 394.88L382.78 394.88Z" fill="none" stroke="#0000FF" stroke-width="1.2" stroke-linejoin="round"/>
<path d="M397.41 374.24L404.49 386.50L390.34 386.50Z" fill="none" stroke="#0000FF" stroke-width="1.2" stroke-linejoin="round"/>
<path d="M404.97 365.62L412.04 377.87L397.89 377.87Z" fill="none" stroke="#0000FF" stroke-width="1.2" stroke-linejoin="round"/>
<path d="M412.53 359.52L419.60 371.77L405.45 371.77Z" fill="none" stroke="#0000FF" stroke-width="1.2" stroke-linejoin="round"/>
<path d="M420.08 349.40L427.16 361.65L413.01 361.65Z" fill="none" stroke="#0000FF" stroke-width="1.2" stroke-linejoin="round"/>
<path d="M427.64 339.32L434.72 351.58L420.57 351.58Z" fill="none" stroke="#0000FF" stroke-width="1.2" stroke-linejoin="round"/>
<path d="M435.20 329.77L442.28 342.03L428.12 342.03Z" fill="none" stroke="#0000FF" stroke-width="1.2" stroke-linejoin="round"/>
<path d="M442.76 320.72L449.83 332.98L435.68 332.98Z" fill="none" stroke="#0000FF" stroke-width="1.2" stroke-linejoin="round"/>
<path d="M450.31 312.40L457.39 324.66L443.24 324.66Z" fill="none" stroke="#0000FF" stroke-width="1.2" stroke-linejoin="round"/>
<path d="M457.87 299.06L464.95 311.31L450.80 311.31Z" fill="none" stroke="#0000FF" stroke-width="1.2" stroke-linejoin="round"/>
<path d="M465.43 288.13L472.51 300.38L458.35 300.38Z" fill="none" stroke="#0000FF" stroke-width="1.2" stroke-linejoin="round"/>
<path d="M96.11 452.19L103.18 464.44L89.03 464.44Z" fill="#00FF00" stroke="#fff" stroke-width="1.2" stroke-linejoin="round"/>
<path d="M102.67 452.19L109.74 464.44L95.59 464.44Z" fill="#00FF00" stroke="#fff" stroke-width="1.2" stroke-linejoin="round"/>
<path d="M110.22 452.19L117.30 464.44L103.15 464.44Z" fill="#00FF00" stroke="#fff" stroke-width="1.2" stroke-linejoin="round"/>
<path d="M117.78 452.19L124.86 464.44L110.70 464.44Z" fill="#00FF00" stroke="#fff" stroke-width="1.2" stroke-linejoin="round"/>
<path d="M125.34 452.18L132.41 464.44L118.26 464.44Z" fill="#00FF00" stroke="#fff" stroke-width="1.2" stroke-linejoin="round"/>
<path d="M132.90 452.18L139.97 464.44L125.82 464.44Z" fill="#00FF00" stroke="#fff" stroke-width="1.2" stroke-linejoin="round"/>
<path d="M140.45 452.18L147.53 464.44L133.38 464.44Z" fill="#00FF00" stroke="#fff" stroke-width="1.2" stroke-linejoin="round"/>
<path d="M148.01 452.18L155.09 464.44L140.94 464.44Z" fill="#00FF00" stroke="#fff" stroke-width="1.2" stroke-linejoin="round"/>
<path d="M155.57 452.18L162.64 464.43L148.49 464.43Z" fill="#00FF00" stroke="#fff" stroke-width="1.2" stroke-linejoin="round"/>
<path d="M163.13 452.18L170.20 464.43L156.05 464.43Z" fill="#00FF00" stroke="#fff" stroke-width="1.2" stroke-linejoin="round"/>
<path d="M170.68 452.18L177.76 464.43L163.61 464.43Z" fill="#00FF00" stroke="#fff" stroke-width="1.2" stroke-linejoin="round"/>
<path d="M178.24 452.18L185.32 464.43L171.17 464.43Z" fill="#00FF00" stroke="#fff" stroke-width="1.2" stroke-linejoin="round"/>
<path d="M185.80 452.07L192.87 464.33L178.72 464.33Z" fill="#00FF00" stroke="#fff" stroke-width="1.2" stroke-linejoin="round"/>
<path d="M193.36 452.01L200.43 464.26L186.28 464.26Z" fill="#00FF00" stroke="#fff" stroke-width="1.2" stroke-linejoin="round"/>
<path d="M200.91 451.90L207.99 464.16L193.84 464.16Z" fill="#00FF00" stroke="#fff" stroke-width="1.2" stroke-linejoin="round"/>
<path d="M208.47 451.79L215.55 464.04L201.40 464.04Z" fill="#00FF00" stroke="#fff" stroke-width="1.2" stroke-linejoin="round"/>
<path d="M216.03 451.66L223.10 463.91L208.95 463.91Z" fill="#00FF00" stroke="#fff" stroke-width="1.2" stroke-linejoin="round"/>
<path d="M223.59 451.48L230.66 463.74L216.51 463.74Z" fill="#00FF00" stroke="#fff" stroke-width="1.2" stroke-linejoin="round"/>
<path d="M231.14 451.26L238.22 463.51L224.07 463.51Z" fill="#00FF00" stroke="#fff" stroke-width="1.2" stroke-linejoin="round"/>
<path d="M238.70 451.01L245.78 463.26L231.63 463.26Z" fill="#00FF00" stroke="#fff" stroke-width="1.2" stroke-linejoin="round"/>
<path d="M246.26 450.82L253.34 463.08L239.18 463.08Z" fill="#00FF00" stroke="#fff" stroke-width="1.2" stroke-linejoin="round"/>
<path d="M253.82 450.58L260.89 462.83L246.74 462.83Z" fill="#00FF00" stroke="#fff" stroke-width="1.2" stroke-linejoin="round"/>
<path d="M261.37 450.28L268.45 462.53L254.30 462.53Z" fill="#00FF00" stroke="#fff" stroke-width="1.2" stroke-linejoin="round"/>
<path d="M268.93 450.05L276.01 462.30L261.86 462.30Z" fill="#00FF00" stroke="#fff" stroke-width="1.2" stroke-linejoin="round"/>
<path d="M276.49 449.26L283.57 461.51L269.41 461.51Z" fill="#00FF00" stroke="#fff" stroke-width="1.2" stroke-linejoin="round"/>
<path d="M284.05 448.78L291.12 461.03L276.97 461.03Z" fill="#00FF00" stroke="#fff" stroke-width="1.2" stroke-linejoin="round"/>
<path d="M291.61 448.05L298.68 460.31L284.53 460.31Z" fill="#00FF00" stroke="#fff" stroke-width="1.2" stroke-linejoin="round"/>
<path d="M299.16 447.17L306.24 459.43L292.09 459.43Z" fill="#00FF00" stroke="#fff" stroke-width="1.2" stroke-linejoin="round"/>
<path d="M306.72 446.12L313.80 458.38L299.64 458.38Z" fill="#00FF00" stroke="#fff" stroke-width="1.2" stroke-linejoin="round"/>
<path d="M314.28 444.47L321.35 456.73L307.20 456.73Z" fill="#00FF00" stroke="#fff" stroke-width="1.2" stroke-linejoin="round"/>
<path d="M321.84 443.16L328.91 455.42L314.76 455.42Z" fill="#00FF00" stroke="#fff" stroke-width="1.2" stroke-linejoin="round"/>
<path d="M329.39 440.82L336.47 453.08L322.32 453.08Z" fill="#00FF00" stroke="#fff" stroke-width="1.2" stroke-linejoin="round"/>
<path d="M336.95 439.68L344.03 451.93L329.88 451.93Z" fill="#00FF00" stroke="#fff" stroke-width="1.2" stroke-linejoin="round"/>
<path d="M344.51 437.43L351.58 449.68L337.43 449.68Z" fill="#00FF00" stroke="#fff" stroke-width="1.2" stroke-linejoin="round"/>
<path d="M352.07 435.21L359.14 447.46L344.99 447.46Z" fill="#00FF00" stroke="#fff" stroke-width="1.2" stroke-linejoin="round"/>
<path d="M359.62 433.57L366.70 445.83L352.55 445.83Z" fill="#00FF00" stroke="#fff" stroke-width="1.2" stroke-linejoin="round"/>
<path d="M367.18 431.20L374.26 443.46L360.11 443.46Z" fill="#00FF00" stroke="#fff" stroke-width="1.2" stroke-linejoin="round"/>
<path d="M374.74 428.55L381.81 440.80L367.66 440.80Z" fill="#00FF00" stroke="#fff" stroke-width="1.2" stroke-linejoin="round"/>
<path d="M382.30 425.70L389.37 437.96L375.22 437.96Z" fill="#00FF00" stroke="#fff" stroke-width="1.2" stroke-linejoin="round"/>
<path d="M389.85 422.78L396.93 435.04L382.78 435.04Z" fill="#00FF00" stroke="#fff" stroke-width="1.2" stroke-linejoin="round"/>
<path d="M397.41 419.75L404.49 432.01L390.34 432.01Z" fill="#00FF00" stroke="#fff" stroke-width="1.2" stroke-linejoin="round"/>
<path d="M404.97 415.68L412.04 427.94L397.89 427.94Z" fill="#00FF00" stroke="#fff" stroke-width="1.2" stroke-linejoin="round"/>
<path d="M412.53 410.77L419.60 423.03L405.45 423.03Z" fill="#00FF00" stroke="#fff" stroke-width="1.2" stroke-linejoin="round"/>
<path d="M420.08 406.99L427.16 419.25L413.01 419.25Z" fill="#00FF00" stroke="#fff" stroke-width="1.2" stroke-linejoin="round"/>
<path d="M427.64 402.46L434.72 414.71L420.57 414.71Z" fill="#00FF00" stroke="#fff" stroke-width="1.2" stroke-linejoin="round"/>
<path d="M435.20 398.50L442.28 410.75L428.12 410.75Z" fill="#00FF00" stroke="#fff" stroke-width="1.2" stroke-linejoin="round"/>
<path d="M442.76 394.09L449.83 406.34L435.68 406.34Z" fill="#00FF00" stroke="#fff" stroke-width="1.2" stroke-linejoin="round"/>
<path d="M450.31 388.20L457.39 400.45L443.24 400.45Z" fill="#00FF00" stroke="#fff" stroke-width="1.2" stroke-linejoin="round"/>
<path d="M457.87 382.06L464.95 394.32L450.80 394.32Z" fill="#00FF00" stroke="#fff" stroke-width="1.2" stroke-linejoin="round"/>
<path d="M465.43 375.78L472.51 388.03L458.35 388.03Z" fill="#00FF00" stroke="#fff" stroke-width="1.2" stroke-linejoin="round"/>
<circle cx="100.40" cy="460.36" r="5.9" fill="#000000"/>
<circle cx="102.67" cy="460.36" r="5.9" fill="#000000"/>
<circle cx="110.22" cy="460.36" r="5.9" fill="#000000"/>
<circle cx="117.78" cy="460.36" r="5.9" fill="#000000"/>
<circle cx="125.34" cy="460.35" r="5.9" fill="#000000"/>
<circle cx="132.90" cy="460.35" r="5.9" fill="#000000"/>
<circle cx="140.45" cy="460.35" r="5.9" fill="#000000"/>
<circle cx="148.01" cy="460.35" r="5.9" fill="#000000"/>
<circle cx="155.57" cy="460.35" r="5.9" fill="#000000"/>
<circle cx="163.13" cy="460.35" r="5.9" fill="#000000"/>
<circle cx="170.68" cy="460.35" r="5.9" fill="#000000"/>
<circle cx="178.24" cy="460.35" r="5.9" fill="#000000"/>
<circle cx="185.80" cy="460.34" r="5.9" fill="#000000"/>
<circle cx="193.36" cy="460.34" r="5.9" fill="#000000"/>
<circle cx="200.91" cy="460.34" r="5.9" fill="#000000"/>
<circle cx="208.47" cy="460.34" r="5.9" fill="#000000"/>
<circle cx="216.03" cy="460.34" r="5.9" fill="#000000"/>
<circle cx="223.59" cy="460.34" r="5.9" fill="#000000"/>
<circle cx="231.14" cy="460.34" r="5.9" fill="#000000"/>
<circle cx="238.70" cy="460.34" r="5.9" fill="#000000"/>
<circle cx="246.26" cy="460.29" r="5.9" fill="#000000"/>
<circle cx="253.82" cy="460.25" r="5.9" fill="#000000"/>
<circle cx="261.37" cy="460.19" r="5.9" fill="#000000"/>
<circle cx="268.93" cy="460.09" r="5.9" fill="#000000"/>
<circle cx="276.49" cy="459.93" r="5.9" fill="#000000"/>
<circle cx="284.05" cy="459.76" r="5.9" fill="#000000"/>
<circle cx="291.61" cy="459.52" r="5.9" fill="#000000"/>
<circle cx="299.16" cy="459.26" r="5.9" fill="#000000"/>
<circle cx="306.72" cy="458.88" r="5.9" fill="#000000"/>
<circle cx="314.28" cy="458.46" r="5.9" fill="#000000"/>
<circle cx="321.84" cy="457.97" r="5.9" fill="#000000"/>
<circle cx="329.39" cy="457.25" r="5.9" fill="#000000"/>
<circle cx="336.95" cy="456.62" r="5.9" fill="#000000"/>
<circle cx="344.51" cy="455.97" r="5.9" fill="#000000"/>
<circle cx="352.07" cy="455.21" r="5.9" fill="#000000"/>
<circle cx="359.62" cy="454.41" r="5.9" fill="#000000"/>
<circle cx="367.18" cy="453.51" r="5.9" fill="#000000"/>
<circle cx="374.74" cy="452.56" r="5.9" fill="#000000"/>
<circle cx="382.30" cy="451.50" r="5.9" fill="#000000"/>
<circle cx="389.85" cy="450.39" r="5.9" fill="#000000"/>
<circle cx="397.41" cy="448.91" r="5.9" fill="#000000"/>
<circle cx="404.97" cy="447.12" r="5.9" fill="#000000"/>
<circle cx="412.53" cy="445.34" r="5.9" fill="#000000"/>
<circle cx="420.08" cy="443.50" r="5.9" fill="#000000"/>
<circle cx="427.64" cy="441.32" r="5.9" fill="#000000"/>
<circle cx="435.20" cy="439.14" r="5.9" fill="#000000"/>
<circle cx="442.76" cy="436.80" r="5.9" fill="#000000"/>
<circle cx="450.31" cy="434.09" r="5.9" fill="#000000"/>
<circle cx="457.87" cy="431.78" r="5.9" fill="#000000"/>
<circle cx="465.43" cy="429.40" r="5.9" fill="#000000"/>
<rect x="80.44" y="80.35" width="399.92" height="394.60" fill="none" stroke="#000" stroke-width="1.15" stroke-linejoin="round"/>
<path d="M87.55 475.10H465.43" stroke="#000" stroke-width="1.15" opacity="0.8"/>
<path d="M80.34 460.36V128.16" stroke="#000" stroke-width="1.15" opacity="0.35"/>
<path d="M87.55 474.95V484.85" stroke="#000" stroke-width="1.15" stroke-linecap="round"/>
<text x="87.55" y="516.55" text-anchor="middle">0</text>
<path d="M163.13 474.95V484.85" stroke="#000" stroke-width="1.15" stroke-linecap="round"/>
<text x="163.13" y="516.55" text-anchor="middle">200</text>
<path d="M238.70 474.95V484.85" stroke="#000" stroke-width="1.15" stroke-linecap="round"/>
<text x="238.70" y="516.55" text-anchor="middle">400</text>
<path d="M314.28 474.95V484.85" stroke="#000" stroke-width="1.15" stroke-linecap="round"/>
<text x="314.28" y="516.55" text-anchor="middle">600</text>
<path d="M389.85 474.95V484.85" stroke="#000" stroke-width="1.15" stroke-linecap="round"/>
<text x="389.85" y="516.55" text-anchor="middle">800</text>
<path d="M465.43 474.95V484.85" stroke="#000" stroke-width="1.15" stroke-linecap="round"/>
<text x="465.43" y="516.55" text-anchor="middle">1000</text>
<path d="M80.44 460.36H70.54" stroke="#000" stroke-width="1.15" stroke-linecap="round"/>
<text transform="translate(54.6,460.36) rotate(-90)" text-anchor="middle">0</text>
<path d="M80.44 377.31H70.54" stroke="#000" stroke-width="1.15" stroke-linecap="round"/>
<text transform="translate(54.6,377.31) rotate(-90)" text-anchor="middle">50</text>
<path d="M80.44 294.26H70.54" stroke="#000" stroke-width="1.15" stroke-linecap="round"/>
<text transform="translate(54.6,294.26) rotate(-90)" text-anchor="middle">100</text>
<path d="M80.44 211.21H70.54" stroke="#000" stroke-width="1.15" stroke-linecap="round"/>
<text transform="translate(54.6,211.21) rotate(-90)" text-anchor="middle">150</text>
<path d="M80.44 128.16H70.54" stroke="#000" stroke-width="1.15" stroke-linecap="round"/>
<text transform="translate(54.6,128.16) rotate(-90)" text-anchor="middle">200</text>
<text x="280.40" y="556.3" text-anchor="middle"># of total rejections</text>
<text transform="translate(15.8,277.65) rotate(-90)" text-anchor="middle">Approximated # of false rejections</text>
<path d="M101.30 101.05L108.75 108.50L101.30 115.95L93.85 108.50Z" fill="none" stroke="#FFA500" stroke-width="1.2" stroke-linejoin="round"/>
<path d="M101.30 156.93L108.38 169.19L94.22 169.19Z" fill="none" stroke="#0000FF" stroke-width="1.2" stroke-linejoin="round"/>
<path d="M101.30 185.75L107.32 196.18L95.28 196.18Z" fill="#00FF00"/>
<circle cx="101.30" cy="219.70" r="5.9" fill="#000000"/>
<text x="122.60000000000001" y="116.60" style="font-size:22.7px">khat=1</text>
<text x="122.60000000000001" y="144.40" style="font-size:22.7px">k = 2</text>
<text x="122.60000000000001" y="172.20" style="font-size:22.7px">k = 3</text>
<text x="122.60000000000001" y="200.00" style="font-size:22.7px">k=4</text>
<text x="122.60000000000001" y="227.80" style="font-size:22.7px">k=5</text>
</g>
<path d="M976.1 157.4L975.2 160.5" stroke="#FFA500" stroke-width="1.0" stroke-linecap="round" fill="none"/>
</svg>
</body></html>
